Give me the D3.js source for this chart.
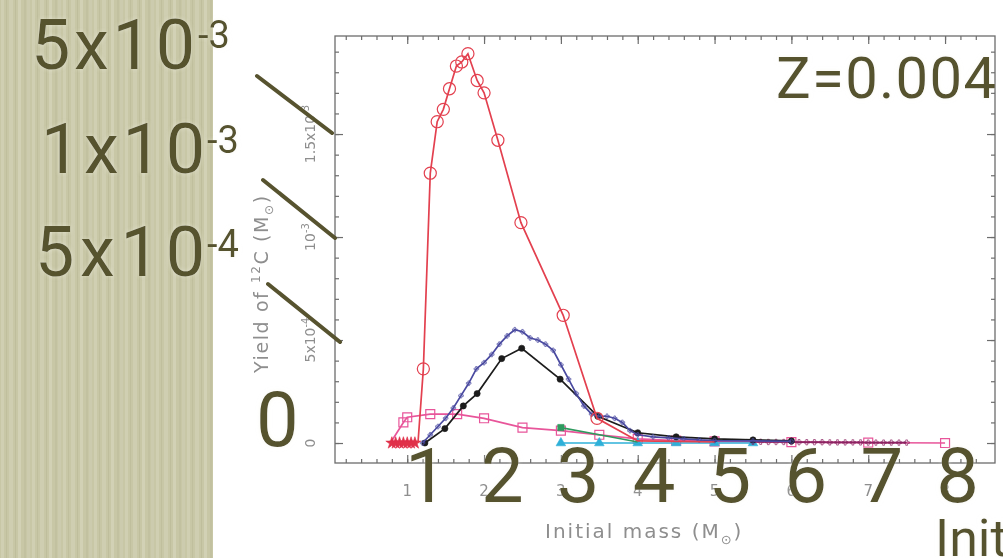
<!DOCTYPE html>
<html>
<head>
<meta charset="utf-8">
<script src="https://cdn.jsdelivr.net/npm/d3@7"></script>
<style>
  body { margin: 0; background: #fff; overflow: hidden; }
  svg { display: block; }
</style>
</head>
<body>
<svg id="chart" width="1003" height="558"></svg>
<script>
// yields are in units of 1e-3 Msun
const massTicks = [1, 2, 3, 4, 5, 6, 7, 8];
const yieldTicks = [0, 0.5, 1, 1.5];
const yieldTickMain = ["0", "5x10", "10", "1.5x10"];
const yieldTickSup = ["", "-4", "-3", "-3"];

const redMass  = [1.14, 1.21, 1.30, 1.39, 1.47, 1.55, 1.64, 1.71, 1.79, 1.91, 2.00, 2.18, 2.48, 3.03, 3.47, 4.00, 4.50, 5.00];
const redYield = [0.00, 0.36, 1.31, 1.56, 1.62, 1.72, 1.83, 1.85, 1.89, 1.76, 1.70, 1.47, 1.07, 0.62, 0.12, 0.01, 0.008, 0.005];

const redLowMass  = [0.80, 0.85, 0.90, 0.95, 1.00, 1.05, 1.10];
const redLowYield = [0.00, 0.00, 0.00, 0.00, 0.00, 0.00, 0.00];

const blueMass  = [1.20, 1.30, 1.40, 1.50, 1.60, 1.70, 1.80, 1.90, 2.00, 2.10, 2.20, 2.30, 2.40, 2.50, 2.60, 2.70, 2.80, 2.90, 3.00, 3.10, 3.20, 3.30, 3.40, 3.50, 3.60, 3.70, 3.80, 3.90, 4.00, 4.20, 4.40, 4.60, 4.80, 5.00, 5.50, 6.00];
const blueYield = [0.00, 0.04, 0.08, 0.12, 0.17, 0.23, 0.29, 0.36, 0.39, 0.43, 0.48, 0.52, 0.55, 0.54, 0.51, 0.50, 0.48, 0.45, 0.38, 0.31, 0.24, 0.18, 0.14, 0.13, 0.13, 0.12, 0.10, 0.06, 0.04, 0.03, 0.025, 0.02, 0.015, 0.012, 0.01, 0.008];

const blackMass  = [1.23, 1.49, 1.73, 1.91, 2.23, 2.49, 2.99, 3.48, 4.00, 4.50, 5.00, 5.50, 6.00];
const blackYield = [0.00, 0.07, 0.18, 0.24, 0.41, 0.46, 0.31, 0.13, 0.05, 0.03, 0.02, 0.015, 0.01];

const pinkMass  = [0.78, 0.95, 1.00, 1.30, 1.65, 2.00, 2.50, 3.00, 3.50, 4.00, 4.50, 5.00, 6.00, 7.00, 8.00];
const pinkYield = [0.00, 0.10, 0.125, 0.14, 0.14, 0.12, 0.075, 0.06, 0.04, 0.02, 0.012, 0.008, 0.004, 0.002, 0.00];

const greenMass  = [3.00, 3.50, 4.00];
const greenYield = [0.075, 0.04, 0.005];

const cyanMass  = [3.00, 3.50, 4.00, 4.50, 5.00, 5.50];
const cyanYield = [0.00, 0.00, 0.00, 0.00, 0.00, 0.00];

const magMass  = [5.5, 5.6, 5.7, 5.8, 5.9, 6.0, 6.1, 6.2, 6.3, 6.4, 6.5, 6.6, 6.7, 6.8, 6.9, 7.0, 7.1, 7.2, 7.3, 7.4, 7.5];
const magYield = [0.006, 0.006, 0.005, 0.005, 0.005, 0.005, 0.004, 0.004, 0.004, 0.004, 0.003, 0.003, 0.003, 0.003, 0.003, 0.002, 0.002, 0.002, 0.002, 0.002, 0.002];

const svg = d3.select("#chart");
const defs = svg.append("defs");

// blur for the low-res chart image look
defs.append("filter").attr("id", "soft")
  .append("feGaussianBlur").attr("stdDeviation", 0.7);

// soft light glow round the slide text
const halo = defs.append("filter").attr("id", "halo")
  .attr("x", "-10%").attr("y", "-10%").attr("width", "120%").attr("height", "120%");
halo.append("feGaussianBlur").attr("in", "SourceAlpha").attr("stdDeviation", 2).attr("result", "b");
halo.append("feFlood").attr("flood-color", "#f2f2e4").attr("flood-opacity", 0.55);
halo.append("feComposite").attr("in2", "b").attr("operator", "in").attr("result", "h");
const hm = halo.append("feMerge");
hm.append("feMergeNode").attr("in", "h");
hm.append("feMergeNode").attr("in", "SourceGraphic");

// streaked texture for the slide's left strip
const pat = defs.append("pattern").attr("id", "stripes")
  .attr("patternUnits", "userSpaceOnUse").attr("width", 31).attr("height", 558);
pat.append("rect").attr("width", 31).attr("height", 558).attr("fill", "#c8c7a6");
[[1, 3, "#d0cfb2"], [6, 1, "#c0bf9d"], [9, 4, "#cfceb1"], [15, 1, "#bfbe9c"], [18, 3, "#d2d1b5"], [24, 2, "#c2c1a0"], [27, 3, "#cccbae"]]
  .forEach(([px, w, c]) => pat.append("rect").attr("x", px).attr("width", w).attr("height", 558).attr("fill", c));

svg.append("rect").attr("x", 0).attr("y", 0).attr("width", 213).attr("height", 558)
  .attr("fill", "url(#stripes)").attr("filter", "url(#soft)");

const x = d3.scaleLinear().domain([0.06, 8.65]).range([335, 995]);
const y = d3.scaleLinear().domain([-0.097, 1.976]).range([463, 36]);

const plot = svg.append("g").attr("filter", "url(#soft)");
const axisCol = "#6d6d6d";

plot.append("rect")
  .attr("x", x.range()[0]).attr("y", y.range()[1])
  .attr("width", x.range()[1] - x.range()[0]).attr("height", y.range()[0] - y.range()[1])
  .attr("fill", "none").attr("stroke", axisCol).attr("stroke-width", 1.3);

const minorX = d3.range(0.2, 8.6, 0.2);
const minorY = d3.range(-0.0, 1.95, 0.1);

function addAxis(axis, tf, vals, size) {
  const a = plot.append("g").attr("transform", tf)
    .call(axis.tickValues(vals).tickSize(size).tickFormat(""));
  a.select(".domain").remove();
  a.selectAll("line").attr("stroke", axisCol).attr("stroke-width", 1.2);
}
addAxis(d3.axisBottom(x), `translate(0,${y.range()[0]})`, minorX, -4);
addAxis(d3.axisBottom(x), `translate(0,${y.range()[0]})`, massTicks, -8);
addAxis(d3.axisTop(x), `translate(0,${y.range()[1]})`, minorX, -4);
addAxis(d3.axisTop(x), `translate(0,${y.range()[1]})`, massTicks, -8);
addAxis(d3.axisLeft(y), `translate(${x.range()[0]},0)`, minorY, -4);
addAxis(d3.axisLeft(y), `translate(${x.range()[0]},0)`, yieldTicks, -8);
addAxis(d3.axisRight(y), `translate(${x.range()[1]},0)`, minorY, -4);
addAxis(d3.axisRight(y), `translate(${x.range()[1]},0)`, yieldTicks, -8);

const labCol = "#8e8e8e";
plot.append("g").selectAll("text").data(massTicks).join("text")
  .attr("x", d => x(d)).attr("y", 496)
  .attr("text-anchor", "middle")
  .attr("font-family", "DejaVu Sans, sans-serif").attr("font-size", 15)
  .attr("fill", labCol).text(d => d);

const yl = plot.append("g").selectAll("text").data(yieldTicks).join("text")
  .attr("transform", d => `translate(315,${y(d)}) rotate(-90)`)
  .attr("text-anchor", "middle")
  .attr("font-family", "DejaVu Sans, sans-serif").attr("font-size", 14)
  .attr("fill", labCol);
yl.append("tspan").text((d, i) => yieldTickMain[i]);
yl.append("tspan").attr("font-size", 10).attr("dy", -6).text((d, i) => yieldTickSup[i]);

const yt = plot.append("text")
  .attr("transform", "translate(268,373) rotate(-90)")
  .attr("font-family", "DejaVu Sans, sans-serif").attr("font-size", 19)
  .attr("letter-spacing", 1.6)
  .attr("fill", labCol);
yt.append("tspan").text("Yield of ");
yt.append("tspan").attr("font-size", 12).attr("dy", -8).text("12");
yt.append("tspan").attr("dy", 8).text("C (M");
yt.append("tspan").attr("font-size", 12).attr("dy", 5).text("\u2299");
yt.append("tspan").attr("dy", -5).text(")");

const xt = plot.append("text")
  .attr("x", 545).attr("y", 538)
  .attr("font-family", "DejaVu Sans, sans-serif").attr("font-size", 20)
  .attr("letter-spacing", 2)
  .attr("fill", labCol);
xt.append("tspan").text("Initial  mass  (M");
xt.append("tspan").attr("font-size", 13).attr("dy", 6).text("\u2299");
xt.append("tspan").attr("dy", -6).text(")");

function series(mass, yld, color, symbol, size, filled, every, sw) {
  const pts = mass.map((m, i) => [m, yld[i]]);
  plot.append("path").datum(pts)
    .attr("fill", "none").attr("stroke", color).attr("stroke-width", 1.7)
    .attr("d", d3.line().x(d => x(d[0])).y(d => y(d[1])));
  const sym = d3.symbol().type(symbol).size(size);
  plot.append("g").selectAll("path").data(pts.filter((d, i) => every(i))).join("path")
    .attr("transform", d => `translate(${x(d[0])},${y(d[1])})`)
    .attr("d", sym)
    .attr("fill", filled ? color : "none")
    .attr("stroke", color).attr("stroke-width", sw);
}

series(pinkMass, pinkYield, "#e8559a", d3.symbolSquare, 80, false, i => i > 0, 1.2);
series(cyanMass, cyanYield, "#2fb0d8", d3.symbolTriangle, 40, true, () => true, 0.6);
series(greenMass, greenYield, "#2f9a5e", d3.symbolSquare, 40, true, i => i === 0, 0.6);
series(magMass, magYield, "#8c2563", d3.symbolCross, 16, false, () => true, 0.7);
series(blackMass, blackYield, "#1b1b1b", d3.symbolCircle, 30, true, () => true, 0.6);
series(blueMass, blueYield, "#4a4aa0", d3.symbolCross, 12, false, () => true, 0.7);
series(redLowMass, redLowYield, "#e0304a", d3.symbolStar, 45, true, () => true, 0.6);
series(redMass, redYield, "#e3404f", d3.symbolCircle, 115, false, i => i > 0 && i < 15, 1.2);

// slide annotations on top of the figure
const ink = "#57532f";
const ann = svg.append("g").attr("fill", ink).attr("font-family", "Roboto, sans-serif").attr("filter", "url(#halo)");

function big(txt, px, py, fs, len) {
  const t = ann.append("text").attr("x", px).attr("y", py).attr("font-size", fs).text(txt);
  if (len) t.attr("textLength", len).attr("lengthAdjust", "spacing");
}
big("5x10", 31, 69, 70, 164);
big("-3", 198, 48, 38);
big("1x10", 41, 173, 70, 164);
big("-3", 207, 153, 38);
big("5x10", 35, 276, 70, 170);
big("-4", 207, 257, 38);
big("0", 256, 446, 76);
big("1 2 3 4 5 6 7 8", 405, 502, 76, 574);
big("Z=0.004", 776, 98, 58, 220);
big("Init", 935, 556, 52);

const slashes = [[257, 76, 332, 133], [263, 180, 335, 238], [268, 284, 340, 342]];
svg.append("g").selectAll("line").data(slashes).join("line")
  .attr("x1", d => d[0]).attr("y1", d => d[1]).attr("x2", d => d[2]).attr("y2", d => d[3])
  .attr("stroke", ink).attr("stroke-width", 4).attr("stroke-linecap", "round");
</script>
</body>
</html>
